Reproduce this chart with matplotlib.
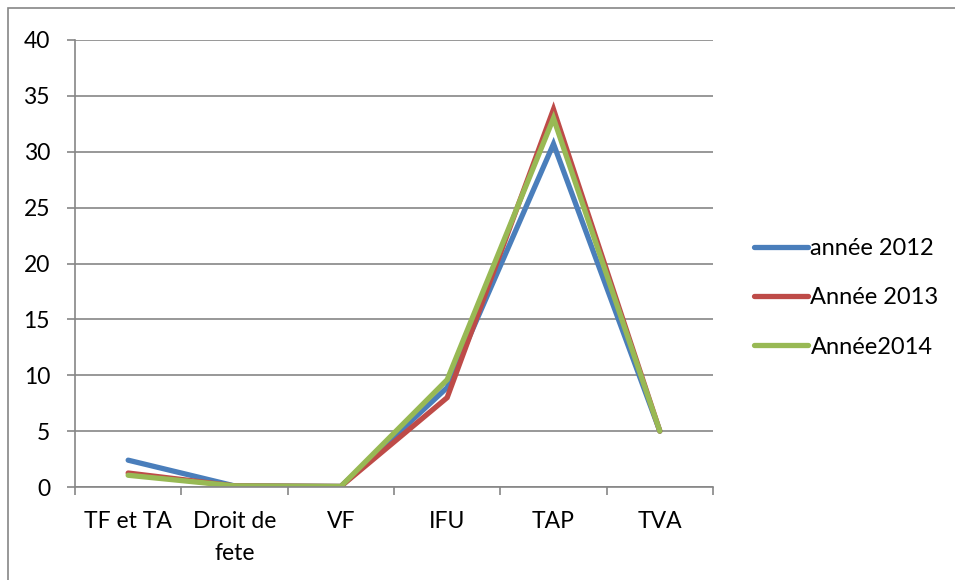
import matplotlib.pyplot as plt
import matplotlib.patches as mpatches

categories = ['TF et TA', 'Droit de\nfete', 'VF', 'IFU', 'TAP', 'TVA']
series_names = ['année 2012', 'Année 2013', 'Année2014']
annee_2012 = [2.4, 0.1, 0.05, 8.9, 30.7, 5.0]
annee_2013 = [1.25, 0.1, 0.05, 8.0, 33.8, 5.0]
annee_2014 = [1.05, 0.1, 0.05, 9.6, 33.0, 5.0]
colors = ['#4A7EBB', '#BE4B48', '#98B954']
y_ticks = [0, 5, 10, 15, 20, 25, 30, 35, 40]

plt.rcParams['font.family'] = ['Lato', 'DejaVu Sans']

fig = plt.figure(figsize=(9.55, 5.8), dpi=100)
# cadre gris autour du graphique
fig.patches.append(mpatches.Rectangle((8 / 955, -0.1), 1.2, 1 - 8 / 580 + 0.1,
                                      transform=fig.transFigure, fill=False,
                                      edgecolor='#868686', linewidth=1.2))
ax = fig.add_axes([75 / 955, 1 - 487 / 580, 638 / 955, 447 / 580])

x = list(range(len(categories)))
for vals, name, c in zip([annee_2012, annee_2013, annee_2014], series_names, colors):
    ax.plot(x, vals, color=c, linewidth=3.8, label=name,
            solid_capstyle='round', solid_joinstyle='miter')

ax.set_xlim(-0.5, len(categories) - 0.5)
ax.set_ylim(0, 40)
ax.set_yticks(y_ticks)
ax.set_xticks(x)
ax.set_xticklabels(categories, fontsize=16.5, linespacing=1.65)
ax.set_xticks([i - 0.5 for i in range(len(categories) + 1)], minor=True)
ax.tick_params(axis='x', which='major', length=0, pad=17)
ax.tick_params(axis='x', which='minor', length=6, color='#868686', width=1.2)
ax.tick_params(axis='y', length=6, color='#868686', width=1.2, labelsize=16.5, pad=12)

ax.grid(axis='y', color='#868686', linewidth=1.2)
ax.set_axisbelow(True)
for s in ['top', 'right']:
    ax.spines[s].set_visible(False)
for s in ['left', 'bottom']:
    ax.spines[s].set_color('#868686')
    ax.spines[s].set_linewidth(1.2)

ax.legend(loc='center left', bbox_to_anchor=(1.064, 0.423), frameon=False,
          fontsize=17, handlelength=2.3, handletextpad=0.1, labelspacing=1.2,
          borderaxespad=0, borderpad=0)

fig.savefig('out.png', dpi=100)
